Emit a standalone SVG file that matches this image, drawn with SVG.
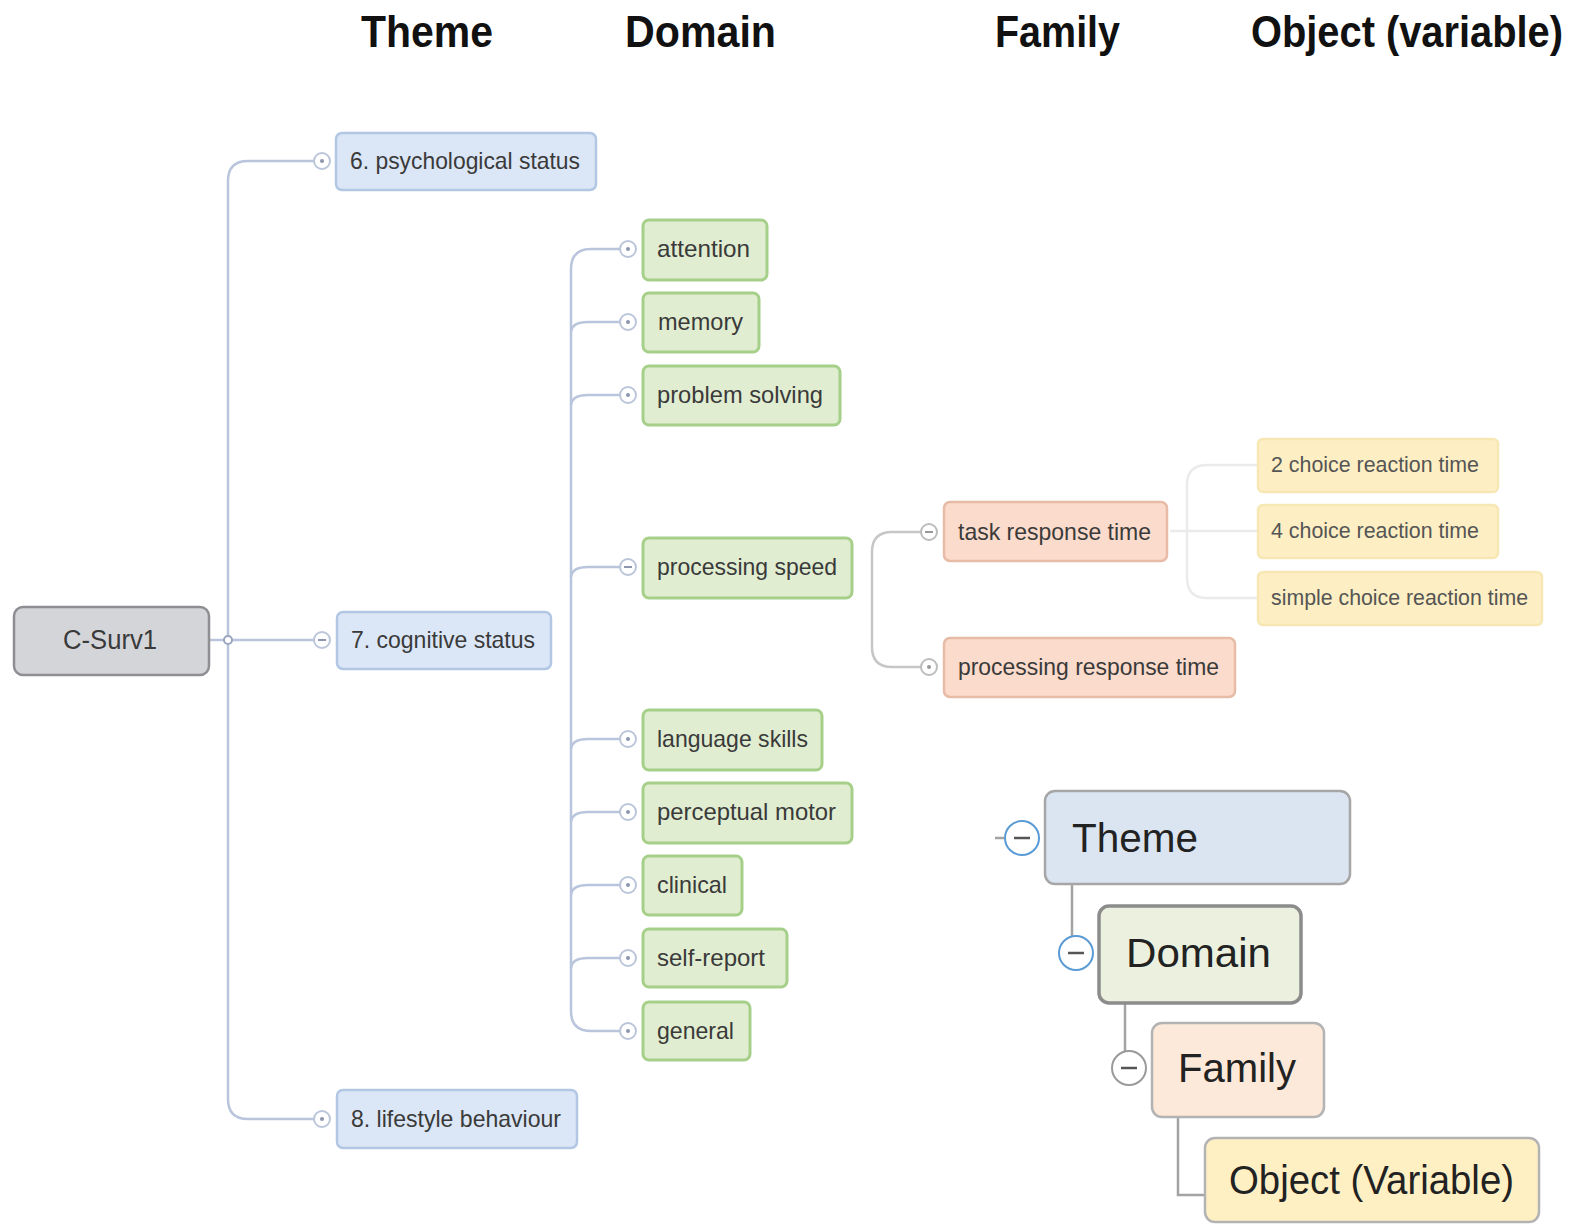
<svg xmlns="http://www.w3.org/2000/svg" width="1588" height="1225" viewBox="0 0 1588 1225">
<style>
text{font-family:"Liberation Sans","Open Sans",Arial,sans-serif;fill:#3a3a3a}
.hdr{font-size:44px;font-weight:bold;fill:#111}
.lbl{font-size:24px}
.obj{font-size:22px;fill:#555}
.big{font-size:40px;fill:#222}
.root rect{fill:#d4d5d9;stroke:#8e8f93;stroke-width:2.5}
.theme rect{fill:#dbe7f6;stroke:#b2c7e4;stroke-width:2.5}
.dom rect{fill:#e1edd1;stroke:#a6d08a;stroke-width:3}
.fam rect{fill:#fbdbcc;stroke:#e7bba6;stroke-width:2.5}
.ob rect{fill:#fdefc3;stroke:#f7e7b4;stroke-width:2.5}
.tog{fill:#fff;stroke:#bcc6da;stroke-width:2}
.togg{fill:#fff;stroke:#bdbdbd;stroke-width:2}
.dot{fill:#8c96ac}
.mn{stroke:#8c96ac;stroke-width:2}
.c1{fill:none;stroke:#b9c5dc;stroke-width:2.5}
.c2{fill:none;stroke:#c6c6c6;stroke-width:2.5}
.c3{fill:none;stroke:#ebebeb;stroke-width:2.5}
.lc{fill:none;stroke:#a3a3a3;stroke-width:2.5}
.lt{fill:#fff;stroke:#5b9bd5;stroke-width:2}
.ltg{fill:#fff;stroke:#9a9a9a;stroke-width:2}
.lm{stroke:#555;stroke-width:2.5}
</style>

<g id="headers">
<text class="hdr" x="361" y="47" textLength="132" lengthAdjust="spacingAndGlyphs">Theme</text>
<text class="hdr" x="625" y="47" textLength="151" lengthAdjust="spacingAndGlyphs">Domain</text>
<text class="hdr" x="995" y="47" textLength="125" lengthAdjust="spacingAndGlyphs">Family</text>
<text class="hdr" transform="translate(1251,47) scale(0.905,1)">Object (variable)</text>
</g>

<g id="connectors">
<path class="c1" d="M209,640 H224"/>
<path class="c1" d="M314,161 H248 Q228,161 228,181 V1099 Q228,1119 248,1119 H314"/>
<path class="c1" d="M232,640 H314"/>
<circle cx="228" cy="640" r="4" fill="#fff" stroke="#9aa6bd" stroke-width="2"/>
<path class="c1" d="M620,249 H591 Q571,249 571,269 V1011 Q571,1031 591,1031 H620"/>
<path class="c1" d="M571,332 Q572,322 588,322 H620"/>
<path class="c1" d="M571,405 Q572,395 588,395 H620"/>
<path class="c1" d="M571,577 Q572,567 588,567 H620"/>
<path class="c1" d="M571,749 Q572,739 588,739 H620"/>
<path class="c1" d="M571,822 Q572,812 588,812 H620"/>
<path class="c1" d="M571,895 Q572,885 588,885 H620"/>
<path class="c1" d="M571,968 Q572,958 588,958 H620"/>
<path class="c2" d="M921,532 H892 Q872,532 872,552 V647 Q872,667 892,667 H921"/>
<path class="c3" d="M1258,465 H1207 Q1187,465 1187,485 V578 Q1187,598 1207,598 H1258"/>
<path class="c3" d="M1170,531 H1258"/>
<path class="lc" d="M995,838 H1005"/>
<path class="lc" d="M1072,884 V937"/>
<path class="lc" d="M1125,1003 V1052"/>
<path class="lc" d="M1178,1117 V1195 H1205"/>
</g>

<g id="n-root" class="root">
<rect x="14" y="607" width="195" height="68" rx="9"/>
<text x="63" y="649" style="font-size:27px" textLength="94" lengthAdjust="spacingAndGlyphs">C-Surv1</text>
</g>

<g id="n-psych" class="theme">
<circle class="tog" cx="322" cy="161" r="8"/><circle class="dot" cx="322" cy="161" r="2"/>
<rect x="336" y="133" width="260" height="57" rx="6"/>
<text class="lbl" x="350" y="169" textLength="230" lengthAdjust="spacingAndGlyphs">6. psychological status</text>
</g>
<g id="n-cog" class="theme">
<circle class="tog" cx="322" cy="640" r="8"/><line class="mn" x1="318" y1="640" x2="326" y2="640"/>
<rect x="337" y="612" width="214" height="57" rx="6"/>
<text class="lbl" x="351" y="648" textLength="184" lengthAdjust="spacingAndGlyphs">7. cognitive status</text>
</g>
<g id="n-life" class="theme">
<circle class="tog" cx="322" cy="1119" r="8"/><circle class="dot" cx="322" cy="1119" r="2"/>
<rect x="337" y="1090" width="240" height="58" rx="6"/>
<text class="lbl" x="351" y="1127" textLength="210" lengthAdjust="spacingAndGlyphs">8. lifestyle behaviour</text>
</g>

<g id="n-attention" class="dom">
<circle class="tog" cx="628" cy="249" r="8"/><circle class="dot" cx="628" cy="249" r="2"/>
<rect x="643" y="220" width="124" height="60" rx="6"/>
<text class="lbl" x="657" y="257" textLength="93" lengthAdjust="spacingAndGlyphs">attention</text>
</g>
<g id="n-memory" class="dom">
<circle class="tog" cx="628" cy="322" r="8"/><circle class="dot" cx="628" cy="322" r="2"/>
<rect x="643" y="293" width="116" height="59" rx="6"/>
<text class="lbl" x="658" y="330" textLength="85" lengthAdjust="spacingAndGlyphs">memory</text>
</g>
<g id="n-problem" class="dom">
<circle class="tog" cx="628" cy="395" r="8"/><circle class="dot" cx="628" cy="395" r="2"/>
<rect x="643" y="366" width="197" height="59" rx="6"/>
<text class="lbl" x="657" y="403" textLength="166" lengthAdjust="spacingAndGlyphs">problem solving</text>
</g>
<g id="n-speed" class="dom">
<circle class="tog" cx="628" cy="567" r="8"/><line class="mn" x1="624" y1="567" x2="632" y2="567"/>
<rect x="643" y="538" width="209" height="60" rx="6"/>
<text class="lbl" x="657" y="575" textLength="180" lengthAdjust="spacingAndGlyphs">processing speed</text>
</g>
<g id="n-language" class="dom">
<circle class="tog" cx="628" cy="739" r="8"/><circle class="dot" cx="628" cy="739" r="2"/>
<rect x="643" y="710" width="179" height="60" rx="6"/>
<text class="lbl" x="657" y="747" textLength="151" lengthAdjust="spacingAndGlyphs">language skills</text>
</g>
<g id="n-perceptual" class="dom">
<circle class="tog" cx="628" cy="812" r="8"/><circle class="dot" cx="628" cy="812" r="2"/>
<rect x="643" y="783" width="209" height="60" rx="6"/>
<text class="lbl" x="657" y="820" textLength="179" lengthAdjust="spacingAndGlyphs">perceptual motor</text>
</g>
<g id="n-clinical" class="dom">
<circle class="tog" cx="628" cy="885" r="8"/><circle class="dot" cx="628" cy="885" r="2"/>
<rect x="643" y="856" width="99" height="59" rx="6"/>
<text class="lbl" x="657" y="893" textLength="70" lengthAdjust="spacingAndGlyphs">clinical</text>
</g>
<g id="n-self" class="dom">
<circle class="tog" cx="628" cy="958" r="8"/><circle class="dot" cx="628" cy="958" r="2"/>
<rect x="643" y="929" width="144" height="58" rx="6"/>
<text class="lbl" x="657" y="966" textLength="108" lengthAdjust="spacingAndGlyphs">self-report</text>
</g>
<g id="n-general" class="dom">
<circle class="tog" cx="628" cy="1031" r="8"/><circle class="dot" cx="628" cy="1031" r="2"/>
<rect x="643" y="1002" width="107" height="58" rx="6"/>
<text class="lbl" x="657" y="1039" textLength="77" lengthAdjust="spacingAndGlyphs">general</text>
</g>

<g id="n-task" class="fam">
<circle class="togg" cx="929" cy="532" r="8"/><line stroke="#999" stroke-width="2" x1="925" y1="532" x2="933" y2="532"/>
<rect x="944" y="502" width="223" height="59" rx="6"/>
<text class="lbl" x="958" y="540" textLength="193" lengthAdjust="spacingAndGlyphs">task response time</text>
</g>
<g id="n-procresp" class="fam">
<circle class="togg" cx="929" cy="667" r="8"/><circle fill="#999" cx="929" cy="667" r="2"/>
<rect x="944" y="638" width="291" height="59" rx="6"/>
<text class="lbl" x="958" y="675" textLength="261" lengthAdjust="spacingAndGlyphs">processing response time</text>
</g>

<g id="n-2choice" class="ob">
<rect x="1258" y="439" width="240" height="53" rx="5"/>
<text class="obj" x="1271" y="472" textLength="208" lengthAdjust="spacingAndGlyphs">2 choice reaction time</text>
</g>
<g id="n-4choice" class="ob">
<rect x="1258" y="505" width="240" height="53" rx="5"/>
<text class="obj" x="1271" y="538" textLength="208" lengthAdjust="spacingAndGlyphs">4 choice reaction time</text>
</g>
<g id="n-simple" class="ob">
<rect x="1258" y="572" width="284" height="53" rx="5"/>
<text class="obj" x="1271" y="605" textLength="257" lengthAdjust="spacingAndGlyphs">simple choice reaction time</text>
</g>

<g id="legend-theme">
<circle class="lt" cx="1022" cy="838" r="17"/><line class="lm" x1="1014" y1="838" x2="1030" y2="838"/>
<rect x="1045" y="791" width="305" height="93" rx="10" fill="#dbe5f1" stroke="#a6a6a6" stroke-width="2.5"/>
<text class="big" x="1072" y="852" textLength="126" lengthAdjust="spacingAndGlyphs">Theme</text>
</g>
<g id="legend-domain">
<circle class="lt" cx="1076" cy="953" r="17"/><line class="lm" x1="1068" y1="953" x2="1084" y2="953"/>
<rect x="1099" y="906" width="202" height="97" rx="10" fill="#ebf1de" stroke="#8c8c8c" stroke-width="3.5"/>
<text class="big" x="1126" y="967" textLength="145" lengthAdjust="spacingAndGlyphs">Domain</text>
</g>
<g id="legend-family">
<circle class="ltg" cx="1129" cy="1068" r="17"/><line class="lm" x1="1121" y1="1068" x2="1137" y2="1068"/>
<rect x="1152" y="1023" width="172" height="94" rx="10" fill="#fde9d9" stroke="#b3b3b3" stroke-width="2.5"/>
<text class="big" x="1178" y="1082" textLength="118" lengthAdjust="spacingAndGlyphs">Family</text>
</g>
<g id="legend-object">
<rect x="1205" y="1138" width="334" height="84" rx="10" fill="#fff0c4" stroke="#b3b3b3" stroke-width="2.5"/>
<text class="big" x="1229" y="1194" textLength="285" lengthAdjust="spacingAndGlyphs">Object (Variable)</text>
</g>
</svg>
